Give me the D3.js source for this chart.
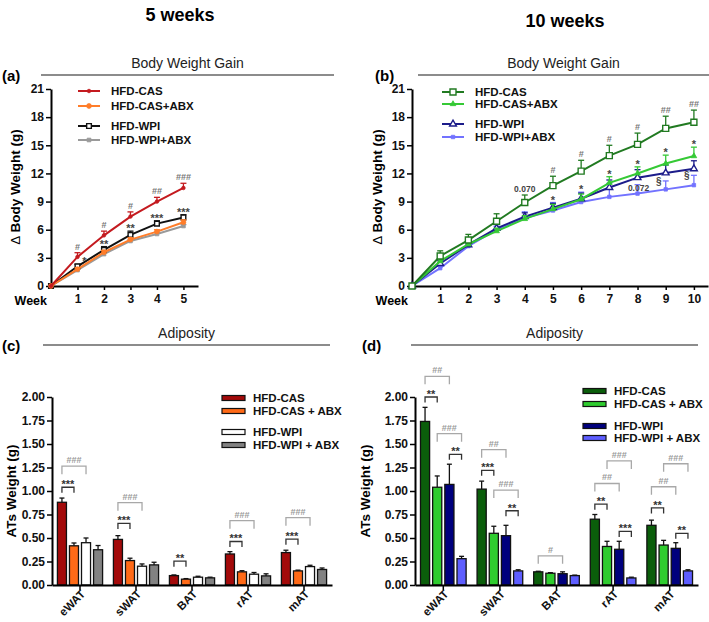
<!DOCTYPE html>
<html>
<head>
<meta charset="utf-8">
<script src="https://cdn.jsdelivr.net/npm/d3@7"></script>
<style>
  body { margin: 0; background: #fff; }
  svg text { font-family: "Liberation Sans", Arial, sans-serif; }
</style>
</head>
<body>
<script>
// ---- data: body weight gain, 5 weeks (a)
var weeksA = [0, 1, 2, 3, 4, 5];
var casA = [0, 3.1, 5.4, 7.4, 9.0, 10.45];
var casAsem = [0, 0.45, 0.45, 0.5, 0.45, 0.5];
var casAbxA = [0, 1.8, 3.6, 4.95, 5.8, 6.8];
var casAbxAsem = [0, 0.15, 0.2, 0.2, 0.2, 0.25];
var wpiA = [0, 2.1, 3.85, 5.45, 6.65, 7.3];
var wpiAsem = [0, 0.2, 0.35, 0.4, 0.3, 0.3];
var wpiAbxA = [0, 1.7, 3.4, 4.8, 5.55, 6.4];
var wpiAbxAsem = [0, 0.15, 0.15, 0.15, 0.15, 0.15];
var hashA = ["", "#", "#", "#", "##", "###"];
var starA = ["", "*", "**", "**", "***", "***"];

// ---- data: body weight gain, 10 weeks (b)
var weeksB = [0, 1, 2, 3, 4, 5, 6, 7, 8, 9, 10];
var casB = [0, 3.2, 4.9, 6.9, 8.9, 10.7, 12.25, 13.9, 15.1, 16.8, 17.45];
var casBsem = [0, 0.55, 0.6, 0.8, 0.8, 1.0, 1.15, 1.1, 1.2, 1.3, 1.3];
var casAbxB = [0, 2.65, 4.45, 5.85, 7.15, 8.2, 9.25, 11.0, 12.0, 13.05, 13.85];
var casAbxBsem = [0, 0.25, 0.3, 0.3, 0.35, 0.5, 0.55, 0.65, 0.7, 0.9, 0.95];
var wpiB = [0, 2.4, 4.4, 6.15, 7.4, 8.35, 9.3, 10.5, 11.55, 12.05, 12.5];
var wpiBsem = [0, 0.3, 0.3, 0.4, 0.4, 0.45, 0.6, 0.8, 0.85, 0.85, 0.85];
var wpiAbxB = [0, 1.9, 4.25, 6.0, 7.25, 8.05, 8.95, 9.5, 9.85, 10.3, 10.75];
var wpiAbxBsem = [0, 0.2, 0.25, 0.35, 0.65, 0.85, 1.05, 1.45, 0.95, 0.9, 1.05];
var hashB = ["", "", "", "", "0.070", "#", "#", "#", "#", "##", "##"];
var starB = ["", "", "", "", "", "*", "*", "*", "*", "*", "*"];
var sectB = ["", "", "", "", "", "", "", "", "0.072", "§", "§"];

var yTicksLine = [0, 3, 6, 9, 12, 15, 18, 21];

// ---- data: adiposity (c: 5 weeks, d: 10 weeks)
var tissues = ["eWAT", "sWAT", "BAT", "rAT", "mAT"];
var casC = [0.88, 0.485, 0.10, 0.33, 0.345];
var casCsem = [0.045, 0.04, 0.007, 0.025, 0.025];
var casAbxC = [0.417, 0.26, 0.062, 0.14, 0.15];
var casAbxCsem = [0.03, 0.025, 0.006, 0.012, 0.008];
var wpiC = [0.45, 0.20, 0.083, 0.115, 0.196];
var wpiCsem = [0.05, 0.024, 0.01, 0.018, 0.014];
var wpiAbxC = [0.375, 0.214, 0.076, 0.097, 0.165];
var wpiAbxCsem = [0.045, 0.028, 0.007, 0.022, 0.016];

var casD = [1.74, 1.02, 0.14, 0.70, 0.635];
var casDsem = [0.15, 0.085, 0.006, 0.05, 0.055];
var casAbxD = [1.04, 0.55, 0.125, 0.41, 0.425];
var casAbxDsem = [0.12, 0.075, 0.006, 0.055, 0.05];
var wpiD = [1.07, 0.525, 0.12, 0.38, 0.39];
var wpiDsem = [0.215, 0.11, 0.02, 0.085, 0.06];
var wpiAbxD = [0.28, 0.15, 0.10, 0.075, 0.15];
var wpiAbxDsem = [0.025, 0.012, 0.005, 0.008, 0.012];

var yTicksBar = [0, 0.25, 0.5, 0.75, 1.0, 1.25, 1.5, 1.75, 2.0];

// brackets: [tissue, fromBar, toBar, level (g), label]
var bracketsC = [
  ["eWAT", 0, 1, 1.04, "***"], ["eWAT", 0, 2, 1.264, "###"],
  ["sWAT", 0, 1, 0.655, "***"], ["sWAT", 0, 2, 0.876, "###"],
  ["BAT", 0, 1, 0.253, "**"],
  ["rAT", 0, 1, 0.463, "***"], ["rAT", 0, 2, 0.684, "###"],
  ["mAT", 0, 1, 0.488, "***"], ["mAT", 0, 2, 0.716, "###"]
];
var bracketsD = [
  ["eWAT", 0, 1, 2.0, "**"], ["eWAT", 0, 2, 2.22, "##"],
  ["eWAT", 1, 3, 1.61, "###"], ["eWAT", 2, 3, 1.39, "**"],
  ["sWAT", 0, 2, 1.44, "##"], ["sWAT", 0, 1, 1.22, "***"],
  ["sWAT", 1, 3, 1.01, "###"], ["sWAT", 2, 3, 0.79, "**"],
  ["BAT", 0, 2, 0.31, "#"],
  ["rAT", 1, 3, 1.32, "###"], ["rAT", 0, 2, 1.08, "##"],
  ["rAT", 0, 1, 0.86, "**"], ["rAT", 2, 3, 0.57, "***"],
  ["mAT", 1, 3, 1.29, "###"], ["mAT", 0, 2, 1.045, "##"],
  ["mAT", 0, 1, 0.82, "**"], ["mAT", 2, 3, 0.55, "**"]
];

var svg = d3.select("body").append("svg")
  .attr("width", 709)
  .attr("height", 622);

// ---- headings
svg.append("text").attr("x", 180).attr("y", 21).attr("text-anchor", "middle")
  .attr("font-size", 18).attr("font-weight", "bold").text("5 weeks");
svg.append("text").attr("x", 565).attr("y", 27).attr("text-anchor", "middle")
  .attr("font-size", 18).attr("font-weight", "bold").text("10 weeks");

function panelHeader(label, lx, x0, x1, lineY, title) {
  svg.append("text").attr("x", lx).attr("y", lineY + 6)
    .attr("font-size", 15).attr("font-weight", "bold").text(label);
  svg.append("line").attr("x1", x0).attr("x2", x1).attr("y1", lineY).attr("y2", lineY)
    .attr("stroke", "#666").attr("stroke-width", 1.5);
  svg.append("text").attr("x", (x0 + x1) / 2).attr("y", lineY - 7).attr("text-anchor", "middle")
    .attr("font-size", 14).attr("fill", "#222").text(title);
}
panelHeader("(a)", 2, 41, 334, 75, "Body Weight Gain");
panelHeader("(b)", 375, 418, 709, 75, "Body Weight Gain");
panelHeader("(c)", 2, 43, 330, 345, "Adiposity");
panelHeader("(d)", 362, 411, 698, 345, "Adiposity");

function styleAxis(g) {
  g.select(".domain").attr("stroke-width", 2);
  g.selectAll(".tick line").attr("stroke-width", 1.5);
  g.selectAll(".tick text").attr("font-size", 12).attr("font-weight", "bold")
    .attr("font-family", "Liberation Sans, Arial, sans-serif").attr("fill", "#111");
}

function marker(g, type, x, y, color, size, open) {
  g.append("path")
    .attr("d", d3.symbol().type(type).size(size)())
    .attr("transform", "translate(" + x + "," + y + ")")
    .attr("fill", open ? "#fff" : color)
    .attr("stroke", color)
    .attr("stroke-width", open ? 1.4 : 0.8);
}

// ---- line charts
function lineChart(o) {
  var x = d3.scaleLinear().domain(o.xDomain).range(o.xRange);
  var y = d3.scaleLinear().domain([0, 21]).range([286, 89]);
  var g = svg.append("g");

  var ya = g.append("g").attr("transform", "translate(" + o.xRange[0] + ",0)")
    .call(d3.axisLeft(y).tickValues(yTicksLine).tickSize(5).tickSizeOuter(0).tickPadding(2));
  styleAxis(ya);
  var xa = g.append("g").attr("transform", "translate(0,286)")
    .call(d3.axisBottom(x).tickValues(o.weeks.slice(1)).tickFormat(d3.format("d"))
      .tickSize(4).tickSizeOuter(0).tickPadding(4));
  styleAxis(xa);
  g.append("text").attr("x", o.xRange[0] - 4).attr("y", 305).attr("text-anchor", "end")
    .attr("font-size", 12.5).attr("font-weight", "bold").text("Week");

  var yl = g.append("text")
    .attr("transform", "translate(" + o.ylabX + ",187) rotate(-90)")
    .attr("text-anchor", "middle").attr("font-size", 13.5).attr("font-weight", "bold");
  yl.append("tspan").attr("font-weight", "normal").text("\u0394 ");
  yl.append("tspan").text("Body Weight (g)");

  var line = d3.line().x(function(d, i) { return x(o.weeks[i]); }).y(function(d) { return y(d); });

  // draw in reverse so the first series sits on top
  o.series.slice().reverse().forEach(function(s) {
    g.append("path").datum(s.vals).attr("d", line)
      .attr("fill", "none").attr("stroke", s.color).attr("stroke-width", 2);
    s.vals.forEach(function(v, i) {
      if (s.sem[i] > 0) {
        var xi = x(o.weeks[i]), y0 = y(v), y1 = y(v + s.sem[i]);
        g.append("line").attr("x1", xi).attr("x2", xi).attr("y1", y0).attr("y2", y1)
          .attr("stroke", s.color).attr("stroke-width", 1.3);
        g.append("line").attr("x1", xi - 3).attr("x2", xi + 3).attr("y1", y1).attr("y2", y1)
          .attr("stroke", s.color).attr("stroke-width", 1.3);
      }
    });
    s.vals.forEach(function(v, i) {
      marker(g, s.type, x(o.weeks[i]), y(v), s.color, s.size, s.open);
    });
  });

  // legend
  o.series.forEach(function(s, i) {
    var ly = o.legY[i];
    g.append("line").attr("x1", o.legX).attr("x2", o.legX + 22).attr("y1", ly).attr("y2", ly)
      .attr("stroke", s.color).attr("stroke-width", 2);
    marker(g, s.type, o.legX + 11, ly, s.color, s.size, s.open);
    g.append("text").attr("x", o.legX + 33).attr("y", ly + 4)
      .attr("font-size", 11.5).attr("font-weight", "bold").attr("fill", "#111").text(s.name);
  });

  // significance labels
  var cas = o.series[0];
  o.hash.forEach(function(t, i) {
    if (!t) return;
    g.append("text").attr("x", x(o.weeks[i])).attr("y", y(cas.vals[i] + cas.sem[i]) - 3)
      .attr("text-anchor", "middle").attr("font-size", t.length > 3 ? 8.5 : 9)
      .attr("font-weight", "bold").attr("fill", t.length > 3 ? "#444" : "#777").text(t);
  });
  o.star.forEach(function(t, i) {
    if (!t) return;
    var top = d3.max(o.series.slice(1), function(s) { return s.vals[i] + s.sem[i]; });
    g.append("text").attr("x", x(o.weeks[i]) + (i === 1 ? 7 : 0)).attr("y", y(top) + 1)
      .attr("text-anchor", "middle").attr("font-size", 11)
      .attr("font-weight", "bold").attr("fill", "#444").text(t);
  });
  return { x: x, y: y, g: g };
}

var chartA = lineChart({
  weeks: weeksA, xDomain: [0, 5.55], xRange: [51, 198], ylabX: 20,
  legX: 78, legY: [91, 106, 126, 140],
  hash: hashA, star: starA,
  series: [
    { name: "HFD-CAS", vals: casA, sem: casAsem, color: "#c41a1f", type: d3.symbolCircle, size: 10, open: false },
    { name: "HFD-CAS+ABX", vals: casAbxA, sem: casAbxAsem, color: "#ff7d2a", type: d3.symbolCircle, size: 18, open: false },
    { name: "HFD-WPI", vals: wpiA, sem: wpiAsem, color: "#111111", type: d3.symbolSquare, size: 22, open: true },
    { name: "HFD-WPI+ABX", vals: wpiAbxA, sem: wpiAbxAsem, color: "#9a9a9a", type: d3.symbolSquare, size: 14, open: false }
  ]
});

var chartB = lineChart({
  weeks: weeksB, xDomain: [0, 10.5], xRange: [412, 708], ylabX: 382,
  legX: 442, legY: [92, 104, 124, 137],
  hash: hashB, star: starB,
  series: [
    { name: "HFD-CAS", vals: casB, sem: casBsem, color: "#217a21", type: d3.symbolSquare, size: 36, open: true },
    { name: "HFD-CAS+ABX", vals: casAbxB, sem: casAbxBsem, color: "#35c935", type: d3.symbolTriangle, size: 14, open: false },
    { name: "HFD-WPI", vals: wpiB, sem: wpiBsem, color: "#1c1c8a", type: d3.symbolTriangle, size: 20, open: true },
    { name: "HFD-WPI+ABX", vals: wpiAbxB, sem: wpiAbxBsem, color: "#7272ff", type: d3.symbolSquare, size: 12, open: false }
  ]
});

// p-value / § marks next to HFD-WPI+ABX error bars in (b)
sectB.forEach(function(t, i) {
  if (!t) return;
  var top = chartB.y(wpiAbxB[i] + wpiAbxBsem[i]);
  var isP = t.length > 1;
  chartB.g.append("text")
    .attr("x", chartB.x(weeksB[i]) + (isP ? 1 : -7))
    .attr("y", top + (isP ? 6 : 4))
    .attr("text-anchor", "middle").attr("font-size", isP ? 8.5 : 10)
    .attr("font-weight", "bold").attr("fill", "#444").text(t);
});

// ---- bar charts
function barChart(o) {
  var x = d3.scaleBand().domain(tissues).range(o.xRange);
  var sub = d3.scaleBand().domain([0, 1, 2, 3]).range([0, x.bandwidth()])
    .paddingInner(0.25).paddingOuter(0.45);
  var y = d3.scaleLinear().domain([0, 2]).range([585, 397]);
  var g = svg.append("g");

  o.series.forEach(function(s, si) {
    s.vals.forEach(function(v, ci) {
      var bx = x(tissues[ci]) + sub(si), bw = sub.bandwidth(), cx = bx + bw / 2;
      var y1 = y(v + s.sem[ci]);
      g.append("line").attr("x1", cx).attr("x2", cx).attr("y1", y(v)).attr("y2", y1)
        .attr("stroke", "#111").attr("stroke-width", 1.3);
      g.append("line").attr("x1", cx - 2.5).attr("x2", cx + 2.5).attr("y1", y1).attr("y2", y1)
        .attr("stroke", "#111").attr("stroke-width", 1.3);
      g.append("rect").attr("x", bx).attr("y", y(v)).attr("width", bw).attr("height", y(0) - y(v))
        .attr("fill", s.color).attr("stroke", "#111").attr("stroke-width", 1.3);
    });
  });

  var ya = g.append("g").attr("transform", "translate(" + o.xRange[0] + ",0)")
    .call(d3.axisLeft(y).tickValues(yTicksBar).tickFormat(d3.format(".2f"))
      .tickSize(5).tickSizeOuter(0).tickPadding(2));
  styleAxis(ya);
  var xa = g.append("g").attr("transform", "translate(0,585)")
    .call(d3.axisBottom(x).tickSize(5).tickSizeOuter(0));
  styleAxis(xa);
  xa.selectAll(".tick text")
    .attr("x", 0).attr("y", 0).attr("dy", "0.35em").attr("font-size", 11.5)
    .attr("transform", "translate(3,7) rotate(-45)")
    .style("text-anchor", "end");

  g.append("text")
    .attr("transform", "translate(" + o.ylabX + ",491) rotate(-90)")
    .attr("text-anchor", "middle").attr("font-size", 13.5).attr("font-weight", "bold")
    .text("ATs Weight (g)");

  // brackets
  o.brackets.forEach(function(b) {
    var x1 = x(b[0]) + sub(b[1]) + sub.bandwidth() / 2;
    var x2 = x(b[0]) + sub(b[2]) + sub.bandwidth() / 2;
    var by = y(b[3]);
    var hashy = b[4].charAt(0) === "#";
    var leg = hashy ? 8 : 5.5;
    var col = hashy ? "#a8a8a8" : "#333";
    g.append("path")
      .attr("d", "M" + x1 + "," + (by + leg) + "V" + by + "H" + x2 + "V" + (by + leg))
      .attr("fill", "none").attr("stroke", col).attr("stroke-width", 1.3);
    g.append("text").attr("x", (x1 + x2) / 2).attr("y", by - (hashy ? 3 : -1))
      .attr("text-anchor", "middle").attr("font-size", hashy ? 9 : 11)
      .attr("font-weight", "bold").attr("fill", hashy ? "#9a9a9a" : "#333").text(b[4]);
  });

  // legend
  o.series.forEach(function(s, i) {
    var ly = o.legY[i];
    g.append("rect").attr("x", o.legX).attr("y", ly - 2.5).attr("width", 23).attr("height", 5)
      .attr("fill", s.color).attr("stroke", "#111").attr("stroke-width", 1.2);
    g.append("text").attr("x", o.legX + 31).attr("y", ly + 4)
      .attr("font-size", 11.5).attr("font-weight", "bold").attr("fill", "#111").text(s.name);
  });
}

barChart({
  xRange: [52, 332], ylabX: 16, legX: 222, legY: [398, 411, 432, 445],
  brackets: bracketsC,
  series: [
    { name: "HFD-CAS", vals: casC, sem: casCsem, color: "#a30a0a" },
    { name: "HFD-CAS + ABX", vals: casAbxC, sem: casAbxCsem, color: "#ff6a17" },
    { name: "HFD-WPI", vals: wpiC, sem: wpiCsem, color: "#ffffff" },
    { name: "HFD-WPI + ABX", vals: wpiAbxC, sem: wpiAbxCsem, color: "#828282" }
  ]
});

barChart({
  xRange: [415, 698], ylabX: 370, legX: 583, legY: [391, 404, 426, 438],
  brackets: bracketsD,
  series: [
    { name: "HFD-CAS", vals: casD, sem: casDsem, color: "#0b5e0b" },
    { name: "HFD-CAS + ABX", vals: casAbxD, sem: casAbxDsem, color: "#2fcc2f" },
    { name: "HFD-WPI", vals: wpiD, sem: wpiDsem, color: "#00007d" },
    { name: "HFD-WPI + ABX", vals: wpiAbxD, sem: wpiAbxDsem, color: "#5e5eff" }
  ]
});
</script>
</body>
</html>
